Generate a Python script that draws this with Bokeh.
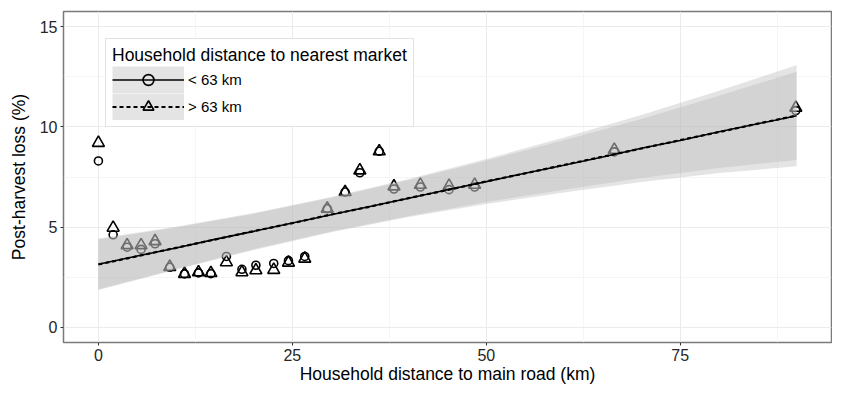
from bokeh.plotting import figure
from bokeh.models import (ColumnDataSource, Range1d, FixedTicker, Legend, LegendItem)
from bokeh.embed import file_html
from bokeh.resources import INLINE

# ---------------- data ----------------
road_km = [0.0, 1.9, 3.7, 5.5, 7.3, 9.2, 11.1, 12.9, 14.5, 16.5, 18.5, 20.3,
           22.6, 24.5, 26.6, 29.5, 31.8, 33.7, 36.2, 38.1, 41.5, 45.2, 48.5,
           66.5, 89.9]
loss_near = [8.30, 4.62, 4.00, 3.89, 4.17, 3.00, 2.67, 2.72, 2.68, 3.54, 2.90,
             3.10, 3.19, 3.33, 3.54, 5.92, 6.75, 7.71, 8.78, 6.90, 7.00, 6.87,
             7.00, 8.75, 10.81]
loss_far = [9.20, 4.97, 4.10, 4.10, 4.30, 3.02, 2.67, 2.75, 2.71, 3.25, 2.75,
            2.85, 2.87, 3.23, 3.43, 5.92, 6.75, 7.83, 8.78, 7.03, 7.11, 7.06,
            7.11, 8.86, 10.95]

fit_x = [0, 5, 10, 15, 20, 25, 30, 35, 40, 45, 50, 55, 60, 65, 70, 75, 80, 85, 90]
fit_near = [3.15, 3.56, 3.96, 4.39, 4.79, 5.21, 5.62, 6.03, 6.44, 6.86, 7.27,
            7.69, 8.09, 8.50, 8.93, 9.32, 9.76, 10.15, 10.55]
fit_far = [3.14, 3.55, 3.97, 4.38, 4.80, 5.20, 5.63, 6.02, 6.45, 6.85, 7.28,
           7.68, 8.10, 8.51, 8.92, 9.34, 9.74, 10.16, 10.56]

ci_x = [0, 10, 20, 30, 40, 50, 60, 70, 80, 90]
ci_near_lo = [1.87, 2.88, 3.86, 4.74, 5.50, 6.16, 6.73, 7.25, 7.70, 8.03]
ci_near_hi = [4.43, 5.02, 5.70, 6.50, 7.40, 8.40, 9.47, 10.59, 11.80, 13.07]
ci_far_lo = [1.91, 2.92, 3.90, 4.78, 5.55, 6.25, 6.87, 7.45, 7.95, 8.35]
ci_far_hi = [4.39, 4.98, 5.66, 6.46, 7.35, 8.31, 9.33, 10.39, 11.55, 12.75]

x_ticks = [0, 25, 50, 75]
x_minor = [12.5, 37.5, 62.5, 87.5]
y_ticks = [0, 5, 10, 15]
y_minor = [2.5, 7.5, 12.5]
group_labels = ["< 63 km", "> 63 km"]

FONT = "Liberation Sans"
RIB_COLOR = "#b6b6b6"
RIB_ALPHA = 0.37
KEY_H = 27

pts_src = ColumnDataSource(dict(x=road_km, near=loss_near, far=loss_far))
fit_src = ColumnDataSource(dict(x=fit_x, near=fit_near, far=fit_far))
ci_src = ColumnDataSource(dict(x=ci_x, nlo=ci_near_lo, nhi=ci_near_hi,
                               flo=ci_far_lo, fhi=ci_far_hi))

p = figure(width=832, height=386, output_backend="svg", toolbar_location=None,
           x_range=Range1d(-4.5, 94.5), y_range=Range1d(-0.75, 15.75),
           min_border_left=63, min_border_right=1, min_border_top=11,
           min_border_bottom=40)
p.background_fill_color = "white"
p.border_fill_color = "white"
p.outline_line_color = "#7a7a7a"
p.outline_line_width = 1.5

# points (drawn first: the ribbons shade them)
sc_circle = p.scatter("x", "near", source=pts_src, marker="circle", size=8,
                      fill_color=None, line_color="black", line_width=1.6)
sc_tri = p.scatter("x", "far", source=pts_src, marker="triangle", size=12,
                   fill_color=None, line_color="black", line_width=1.6)

# confidence ribbons
rib_near = p.varea(x="x", y1="nlo", y2="nhi", source=ci_src,
                   fill_color=RIB_COLOR, fill_alpha=RIB_ALPHA)
rib_far = p.varea(x="x", y1="flo", y2="fhi", source=ci_src,
                  fill_color=RIB_COLOR, fill_alpha=RIB_ALPHA)

# fitted lines
ln_near = p.line("x", "near", source=fit_src, line_color="black", line_width=1.6)
ln_far = p.line("x", "far", source=fit_src, line_color="black", line_width=2.2,
                line_dash="4 3")

# hidden helpers: give the legend keys their ribbon-grey background
key_near = p.line("x", "near", source=fit_src, line_color="#e4e4e4",
                  line_width=KEY_H, line_cap="butt", visible=False)
key_far = p.line("x", "far", source=fit_src, line_color="#e4e4e4",
                 line_width=KEY_H, line_cap="butt", visible=False)

# axes / grid
p.xaxis.ticker = FixedTicker(ticks=x_ticks, minor_ticks=x_minor)
p.yaxis.ticker = FixedTicker(ticks=y_ticks, minor_ticks=y_minor)
for ax in (p.xaxis, p.yaxis):
    ax.axis_line_color = None
    ax.major_tick_line_color = "#333333"
    ax.major_tick_out = 3
    ax.major_tick_in = 0
    ax.minor_tick_line_color = None
    ax.major_label_text_font = FONT
    ax.major_label_text_font_size = "16px"
    ax.major_label_text_color = "#262626"
    ax.axis_label_text_font = FONT
    ax.axis_label_text_font_size = "17.5px"
    ax.axis_label_text_font_style = "normal"
    ax.axis_label_text_color = "black"
    ax.major_label_standoff = 2
p.xaxis.axis_label = "Household distance to main road (km)"
p.yaxis.axis_label = "Post-harvest loss (%)"
p.xaxis.axis_label_standoff = 0
p.yaxis.axis_label_standoff = 8

for g in (p.xgrid, p.ygrid):
    g.grid_line_color = "#ebebeb"
    g.grid_line_width = 1
    g.minor_grid_line_color = "#f3f3f3"
    g.minor_grid_line_width = 0.8

legend = Legend(
    items=[LegendItem(label=group_labels[0], renderers=[key_near, ln_near, sc_circle]),
           LegendItem(label=group_labels[1], renderers=[key_far, ln_far, sc_tri])],
    title="Household distance to nearest market",
    location=(42, 215), orientation="vertical", margin=0, padding=6,
    title_text_font=FONT, title_text_font_size="17.5px",
    title_text_font_style="normal", title_text_color="black",
    label_text_font=FONT, label_text_font_size="15px", label_text_color="black",
    glyph_width=72, glyph_height=KEY_H, label_height=KEY_H, spacing=0,
    label_standoff=4, title_standoff=0, border_line_color="#c8c8c8",
    border_line_width=1, background_fill_color="white", background_fill_alpha=1.0,
    inactive_fill_alpha=0.0)
p.add_layout(legend)

open("out.html", "w").write(file_html(p, INLINE))
